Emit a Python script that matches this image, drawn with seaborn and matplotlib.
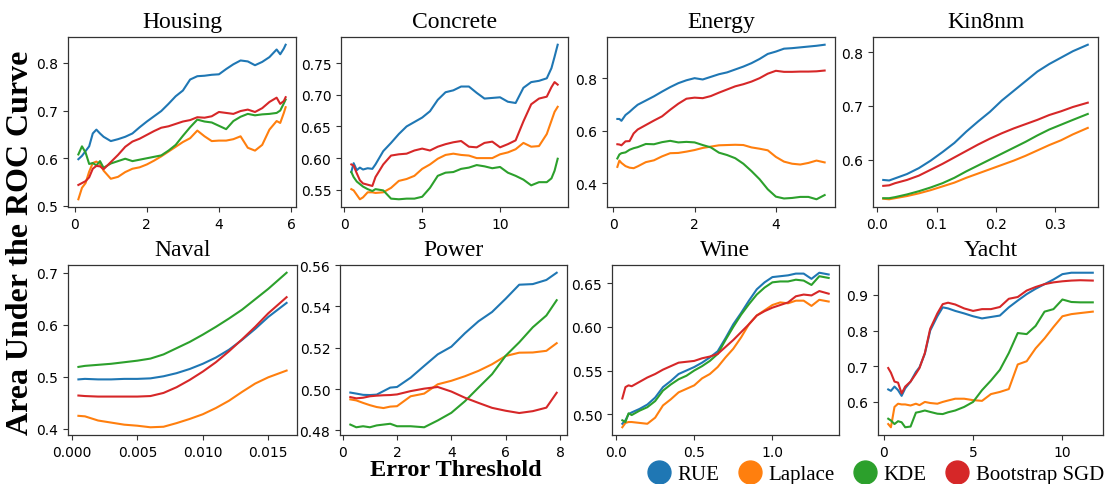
import numpy as np
import pandas as pd
import matplotlib
matplotlib.use("Agg")
import matplotlib.pyplot as plt
from matplotlib.ticker import MultipleLocator
from matplotlib.lines import Line2D
import seaborn as sns

methods = ["RUE", "Laplace", "KDE", "Bootstrap SGD"]
colors = ["#1f77b4", "#ff7f0e", "#2ca02c", "#d62728"]

# ---------------- Housing ----------------
housing_x = [0.1, 0.2, 0.3, 0.4, 0.5, 0.6, 0.7, 0.8, 1.0, 1.2, 1.4, 1.6, 1.8, 2.0, 2.2, 2.4, 2.6, 2.8,
             3.0, 3.2, 3.4, 3.6, 3.8, 4.0, 4.2, 4.4, 4.6, 4.8, 5.0, 5.2, 5.4, 5.6, 5.7, 5.8, 5.85]
housing_rue = [0.598, 0.605, 0.615, 0.625, 0.652, 0.66, 0.652, 0.645, 0.636, 0.64, 0.645, 0.652, 0.665, 0.677,
               0.688, 0.699, 0.714, 0.73, 0.742, 0.765, 0.772, 0.773, 0.775, 0.776, 0.787, 0.797, 0.805, 0.803,
               0.795, 0.802, 0.812, 0.828, 0.818, 0.83, 0.838]
housing_laplace = [0.514, 0.538, 0.548, 0.572, 0.59, 0.593, 0.588, 0.574, 0.557, 0.561, 0.571, 0.578, 0.581,
                   0.587, 0.595, 0.604, 0.614, 0.624, 0.634, 0.642, 0.658, 0.646, 0.636, 0.637, 0.637, 0.64,
                   0.646, 0.622, 0.616, 0.628, 0.66, 0.678, 0.674, 0.695, 0.707]
housing_kde = [0.608, 0.625, 0.612, 0.588, 0.59, 0.585, 0.594, 0.58, 0.589, 0.594, 0.599, 0.594, 0.597, 0.6,
               0.603, 0.606, 0.616, 0.628, 0.647, 0.665, 0.681, 0.677, 0.675, 0.668, 0.661, 0.678, 0.687, 0.693,
               0.69, 0.692, 0.693, 0.695, 0.7, 0.715, 0.723]
housing_boot = [0.544, 0.548, 0.552, 0.56, 0.578, 0.584, 0.583, 0.577, 0.592, 0.607, 0.624, 0.635, 0.641,
                0.649, 0.657, 0.664, 0.667, 0.672, 0.677, 0.68, 0.686, 0.685, 0.688, 0.697, 0.695, 0.693,
                0.699, 0.702, 0.697, 0.705, 0.718, 0.727, 0.714, 0.72, 0.728]

# ---------------- Concrete ----------------
concrete_x = [0.45, 0.6, 0.8, 1.0, 1.2, 1.5, 1.8, 2.0, 2.5, 3.0, 3.5, 4.0, 4.5, 5.0, 5.5, 6.0, 6.5, 7.0,
              7.5, 8.0, 8.5, 9.0, 9.5, 10.0, 10.5, 11.0, 11.5, 12.0, 12.5, 13.0, 13.3, 13.5, 13.7]
concrete_rue = [0.578, 0.592, 0.581, 0.585, 0.582, 0.584, 0.583, 0.59, 0.611, 0.624, 0.638, 0.65, 0.657,
                0.664, 0.674, 0.692, 0.704, 0.707, 0.713, 0.713, 0.703, 0.694, 0.695, 0.696, 0.689, 0.687,
                0.711, 0.72, 0.722, 0.726, 0.742, 0.76, 0.779]
concrete_laplace = [0.551, 0.549, 0.542, 0.535, 0.538, 0.546, 0.546, 0.545, 0.546, 0.553, 0.564, 0.567,
                    0.572, 0.583, 0.59, 0.599, 0.605, 0.607, 0.605, 0.604, 0.6, 0.6, 0.6, 0.606, 0.609,
                    0.614, 0.624, 0.618, 0.619, 0.638, 0.659, 0.673, 0.681]
concrete_kde = [0.578, 0.57, 0.563, 0.559, 0.555, 0.551, 0.548, 0.551, 0.549, 0.536, 0.535, 0.536, 0.536,
                0.539, 0.553, 0.572, 0.577, 0.578, 0.583, 0.585, 0.589, 0.587, 0.584, 0.586, 0.577, 0.572,
                0.566, 0.557, 0.562, 0.562, 0.568, 0.58, 0.599]
concrete_boot = [0.59, 0.588, 0.576, 0.565, 0.56, 0.558, 0.556, 0.57, 0.59, 0.604, 0.606, 0.607, 0.612,
                 0.615, 0.612, 0.618, 0.622, 0.625, 0.627, 0.618, 0.617, 0.624, 0.626, 0.617, 0.622, 0.628,
                 0.658, 0.685, 0.694, 0.697, 0.712, 0.72, 0.716]

# ---------------- Energy ----------------
energy_x = [0.1, 0.15, 0.2, 0.3, 0.4, 0.5, 0.6, 0.8, 1.0, 1.2, 1.4, 1.6, 1.8, 2.0, 2.2, 2.4, 2.6, 2.8,
            3.0, 3.2, 3.4, 3.6, 3.8, 4.0, 4.2, 4.4, 4.6, 4.8, 5.0, 5.2]
energy_rue = [0.645, 0.645, 0.638, 0.66, 0.672, 0.686, 0.699, 0.715, 0.731, 0.749, 0.766, 0.781, 0.792, 0.8,
              0.795, 0.805, 0.815, 0.822, 0.833, 0.844, 0.857, 0.873, 0.892, 0.901, 0.912, 0.914, 0.917,
              0.92, 0.923, 0.927]
energy_laplace = [0.463, 0.487, 0.478, 0.466, 0.46, 0.458, 0.465, 0.481, 0.488, 0.503, 0.515, 0.516, 0.521,
                  0.527, 0.535, 0.54, 0.545, 0.546, 0.547, 0.546, 0.537, 0.532, 0.526, 0.501, 0.483, 0.475,
                  0.472, 0.478, 0.487, 0.48]
energy_kde = [0.495, 0.51, 0.515, 0.518, 0.528, 0.534, 0.538, 0.55, 0.549, 0.557, 0.562, 0.556, 0.558,
              0.556, 0.546, 0.537, 0.517, 0.508, 0.496, 0.475, 0.447, 0.416, 0.378, 0.35, 0.343, 0.345,
              0.349, 0.349, 0.34, 0.356]
energy_boot = [0.549, 0.548, 0.545, 0.56, 0.561, 0.59, 0.605, 0.622, 0.639, 0.655, 0.68, 0.703, 0.722,
               0.726, 0.724, 0.732, 0.745, 0.757, 0.769, 0.777, 0.787, 0.8, 0.817, 0.828, 0.824, 0.824,
               0.825, 0.825, 0.826, 0.829]

# ---------------- Kin8nm ----------------
kin_x = [0.01, 0.02, 0.03, 0.05, 0.07, 0.09, 0.11, 0.13, 0.15, 0.17, 0.19, 0.21, 0.23, 0.25, 0.27, 0.29,
         0.31, 0.33, 0.355]
kin_rue = [0.562, 0.561, 0.565, 0.573, 0.584, 0.598, 0.614, 0.631, 0.652, 0.671, 0.689, 0.71, 0.728, 0.746,
           0.764, 0.778, 0.79, 0.802, 0.814]
kin_laplace = [0.527, 0.526, 0.528, 0.532, 0.537, 0.543, 0.55, 0.557, 0.566, 0.574, 0.582, 0.59, 0.598,
               0.607, 0.617, 0.627, 0.636, 0.647, 0.659]
kin_kde = [0.528, 0.528, 0.53, 0.535, 0.541, 0.548, 0.556, 0.566, 0.578, 0.589, 0.6, 0.611, 0.622, 0.633,
           0.645, 0.656, 0.665, 0.674, 0.685]
kin_boot = [0.551, 0.552, 0.556, 0.562, 0.57, 0.581, 0.592, 0.604, 0.616, 0.628, 0.639, 0.649, 0.658,
            0.666, 0.674, 0.683, 0.69, 0.698, 0.706]

# ---------------- Naval ----------------
naval_x = [0.0005, 0.001, 0.002, 0.003, 0.004, 0.005, 0.006, 0.007, 0.008, 0.009, 0.010, 0.011, 0.012,
           0.013, 0.014, 0.015, 0.0164]
naval_rue = [0.495, 0.496, 0.495, 0.495, 0.496, 0.496, 0.497, 0.501, 0.507, 0.515, 0.525, 0.537, 0.552,
             0.571, 0.592, 0.615, 0.642]
naval_laplace = [0.425, 0.424, 0.416, 0.412, 0.408, 0.406, 0.403, 0.404, 0.411, 0.419, 0.428, 0.44, 0.454,
                 0.471, 0.487, 0.499, 0.512]
naval_kde = [0.519, 0.521, 0.523, 0.525, 0.528, 0.531, 0.535, 0.543, 0.555, 0.567, 0.581, 0.596, 0.612,
             0.629, 0.649, 0.669, 0.7]
naval_boot = [0.464, 0.463, 0.462, 0.462, 0.462, 0.462, 0.463, 0.469, 0.48, 0.494, 0.51, 0.528, 0.549,
              0.572, 0.596, 0.622, 0.653]

# ---------------- Power ----------------
power_x = [0.28, 0.5, 0.75, 1.0, 1.25, 1.5, 1.75, 2.0, 2.5, 3.0, 3.5, 4.0, 4.5, 5.0, 5.5, 6.0, 6.5, 7.0,
           7.5, 7.88]
power_rue = [0.4983, 0.4978, 0.4972, 0.4971, 0.4973, 0.499, 0.5007, 0.501, 0.5055, 0.5112, 0.5168, 0.5205,
             0.527, 0.5328, 0.5373, 0.5437, 0.5505, 0.5508, 0.5528, 0.5563]
power_laplace = [0.495, 0.4945, 0.4933, 0.4922, 0.4913, 0.4908, 0.4915, 0.4917, 0.4965, 0.4978, 0.5023,
                 0.504, 0.5062, 0.5088, 0.512, 0.516, 0.5176, 0.5177, 0.5185, 0.5222]
power_kde = [0.4828, 0.4815, 0.482, 0.4815, 0.4824, 0.4828, 0.4832, 0.482, 0.482, 0.4815, 0.4848, 0.4885,
             0.4941, 0.5007, 0.5072, 0.5161, 0.5226, 0.5299, 0.5356, 0.543]
power_boot = [0.4961, 0.4955, 0.4958, 0.4965, 0.4968, 0.497, 0.4971, 0.4974, 0.499, 0.5002, 0.501, 0.4988,
              0.4958, 0.4933, 0.4909, 0.4895, 0.4884, 0.4893, 0.491, 0.4982]

# ---------------- Wine ----------------
wine_x = [0.04, 0.06, 0.08, 0.1, 0.15, 0.2, 0.25, 0.3, 0.35, 0.4, 0.45, 0.5, 0.55, 0.6, 0.65, 0.7, 0.75,
          0.8, 0.85, 0.9, 0.95, 1.0, 1.05, 1.1, 1.15, 1.2, 1.25, 1.3, 1.36]
wine_rue = [0.489, 0.493, 0.5, 0.502, 0.506, 0.511, 0.519, 0.531, 0.538, 0.546, 0.55, 0.554, 0.559, 0.565,
            0.572, 0.587, 0.603, 0.616, 0.63, 0.643, 0.651, 0.657, 0.658, 0.659, 0.661, 0.661, 0.655, 0.662,
            0.66]
wine_laplace = [0.485, 0.49, 0.491, 0.491, 0.49, 0.489, 0.496, 0.51, 0.517, 0.525, 0.529, 0.533, 0.541,
                0.546, 0.554, 0.565, 0.575, 0.588, 0.603, 0.613, 0.619, 0.625, 0.628, 0.627, 0.63, 0.63,
                0.624, 0.631, 0.629]
wine_kde = [0.493, 0.491, 0.501, 0.499, 0.504, 0.508, 0.515, 0.527, 0.534, 0.54, 0.544, 0.55, 0.555, 0.561,
            0.569, 0.585, 0.6, 0.614, 0.626, 0.637, 0.645, 0.651, 0.652, 0.652, 0.654, 0.653, 0.648, 0.658,
            0.656]
wine_boot = [0.518, 0.531, 0.533, 0.532, 0.537, 0.542, 0.546, 0.551, 0.555, 0.559, 0.56, 0.561, 0.564,
             0.566, 0.569, 0.577, 0.585, 0.594, 0.603, 0.613, 0.618, 0.622, 0.625, 0.628, 0.635, 0.637,
             0.636, 0.641, 0.638]

# ---------------- Yacht ----------------
yacht_x = [0.25, 0.4, 0.6, 0.8, 1.0, 1.2, 1.5, 1.8, 2.0, 2.3, 2.6, 3.0, 3.3, 3.6, 4.0, 4.5, 5.0, 5.5, 6.0,
           6.5, 7.0, 7.5, 8.0, 8.5, 9.0, 9.5, 10.0, 10.5, 11.0, 11.7]
yacht_rue = [0.635, 0.631, 0.643, 0.633, 0.617, 0.638, 0.657, 0.684, 0.697, 0.735, 0.8, 0.84, 0.865, 0.862,
             0.855, 0.848, 0.84, 0.834, 0.838, 0.842, 0.865, 0.884, 0.902, 0.917, 0.93, 0.943, 0.958, 0.962,
             0.962, 0.962]
yacht_laplace = [0.538, 0.529, 0.586, 0.595, 0.593, 0.593, 0.59, 0.595, 0.591, 0.6, 0.597, 0.595, 0.6,
                 0.604, 0.609, 0.609, 0.605, 0.603, 0.622, 0.628, 0.636, 0.705, 0.714, 0.75, 0.778, 0.81,
                 0.84, 0.846, 0.849, 0.853]
yacht_kde = [0.553, 0.548, 0.538, 0.546, 0.543, 0.529, 0.531, 0.57, 0.572, 0.576, 0.572, 0.567, 0.566,
             0.571, 0.576, 0.586, 0.6, 0.633, 0.66, 0.69, 0.737, 0.793, 0.79, 0.813, 0.853, 0.86, 0.887,
             0.88, 0.879, 0.879]
yacht_boot = [0.695, 0.682, 0.657, 0.654, 0.624, 0.643, 0.657, 0.679, 0.695, 0.737, 0.805, 0.848, 0.874,
              0.878, 0.873, 0.862, 0.855, 0.86, 0.86, 0.866, 0.889, 0.894, 0.912, 0.922, 0.93, 0.935, 0.938,
              0.94, 0.941, 0.94]

panels = [
    ("Housing", housing_x, [housing_rue, housing_laplace, housing_kde, housing_boot], 2, 0.1),
    ("Concrete", concrete_x, [concrete_rue, concrete_laplace, concrete_kde, concrete_boot], 5, 0.05),
    ("Energy", energy_x, [energy_rue, energy_laplace, energy_kde, energy_boot], 2, 0.2),
    ("Kin8nm", kin_x, [kin_rue, kin_laplace, kin_kde, kin_boot], 0.1, 0.1),
    ("Naval", naval_x, [naval_rue, naval_laplace, naval_kde, naval_boot], 0.005, 0.1),
    ("Power", power_x, [power_rue, power_laplace, power_kde, power_boot], 2, 0.02),
    ("Wine", wine_x, [wine_rue, wine_laplace, wine_kde, wine_boot], 0.5, 0.05),
    ("Yacht", yacht_x, [yacht_rue, yacht_laplace, yacht_kde, yacht_boot], 5, 0.1),
]

W, H = 1106, 485
fig = plt.figure(figsize=(W / 100, H / 100), dpi=100)

# axes boxes in pixels: (left, top, right, bottom)
boxes = [
    (68, 38, 296, 208), (341, 38, 568, 208), (607, 38, 835, 208), (873, 38, 1098, 208),
    (68, 266, 297, 436), (340, 266, 567, 436), (612, 266, 839, 436), (878, 266, 1103, 436),
]

serif = ["Liberation Serif", "DejaVu Serif"]
palette = dict(zip(methods, colors))

for (title, xs, series, xstep, ystep), (l, t, r, b) in zip(panels, boxes):
    ax = fig.add_axes([l / W, 1 - b / H, (r - l) / W, (b - t) / H])
    rows = []
    for m, ys in zip(methods, series):
        for xv, yv in zip(xs, ys):
            rows.append({"threshold": xv, "auc": yv, "method": m})
    df = pd.DataFrame(rows)
    sns.lineplot(data=df, x="threshold", y="auc", hue="method", hue_order=methods,
                 palette=palette, legend=False, errorbar=None, ax=ax, linewidth=1.5)
    ax.set_title(title, fontsize=17, family=serif, pad=7)
    ax.set_xlabel("")
    ax.set_ylabel("")
    ax.xaxis.set_major_locator(MultipleLocator(xstep))
    ax.yaxis.set_major_locator(MultipleLocator(ystep))
    ax.tick_params(labelsize=10, color="#333333")
    for sp in ax.spines.values():
        sp.set_color("#333333")
        sp.set_linewidth(0.9)

fig.text(21 / W, 0.5, "Area Under the ROC Curve", rotation=90, ha="center", va="center",
         fontsize=23, fontweight="bold", family=serif)
fig.text(456 / W, 1 - 471 / H, "Error Threshold", ha="center", va="center",
         fontsize=17.5, fontweight="bold", family=serif)

handles = [Line2D([], [], linestyle="none", marker="o", markersize=16.5, color=c) for c in colors]
fig.legend(handles, methods, loc="lower right", bbox_to_anchor=(0.998, 0.0), ncol=4, frameon=False,
           prop={"family": serif, "size": 15}, handlelength=1.0, handletextpad=0.4,
           columnspacing=0.95, borderaxespad=0.0, borderpad=0.0)

fig.savefig("out.png", dpi=100)
